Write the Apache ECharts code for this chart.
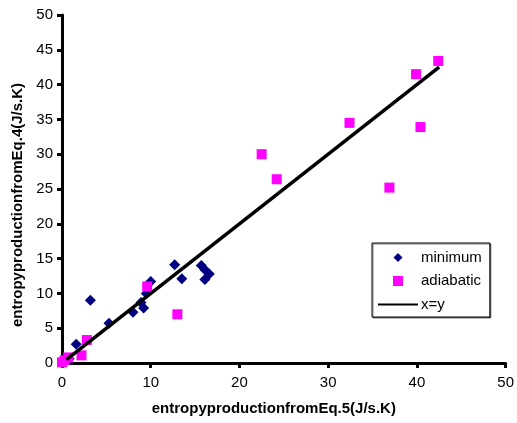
<!DOCTYPE html>
<html>
<head>
<meta charset="utf-8">
<script src="https://cdn.jsdelivr.net/npm/echarts@6/dist/echarts.min.js"></script>
<style>
  html, body { margin: 0; padding: 0; background: #fff; }
  #chart { width: 517px; height: 423px; }
</style>
</head>
<body>
<div id="chart"></div>
<script>
// minimum case: [Eq.5, Eq.4]
var minimumData = [
  [0.3, 0.2], [0.8, 0.6], [1.6, 2.7], [3.2, 9.0], [5.3, 5.7],
  [8.0, 7.3], [8.9, 8.7], [9.2, 7.9], [9.5, 10.0], [10.0, 11.7],
  [12.7, 14.1], [13.5, 12.1], [15.7, 14.0], [16.1, 13.4], [16.6, 12.8],
  [16.1, 12.0]
]
// adiabatic case: [Eq.5, Eq.4]
var adiabaticData = [
  [0.0, 0.1], [0.3, 0.4], [0.7, 0.8], [2.2, 1.1], [2.8, 3.3],
  [9.6, 11.0], [13.0, 7.0], [22.5, 30.0], [24.2, 26.4], [32.4, 34.5],
  [36.9, 25.2], [39.9, 41.5], [40.4, 33.9], [42.4, 43.4]
]
// x=y reference line
var lineData = [[0.5, 0.5], [42.5, 42.5]]

var xName = 'entropyproductionfromEq.5(J/s.K)'
var yName = 'entropyproductionfromEq.4(J/s.K)'

// legend icons padded to the 40x10 item box so they don't get stretched
var diamondIcon = 'path://M0,0L0,0M40,10L40,10M20,0.5L24.5,5L20,9.5L15.5,5Z'
var squareIcon = 'path://M0,0L0,0M40,10L40,10M15,0L25,0L25,10L15,10Z'

var font = 'Liberation Sans, Arial, sans-serif'
var chart = echarts.init(document.getElementById('chart'))

var option = {
  animation: false,
  backgroundColor: '#fff',
  textStyle: { fontFamily: font, color: '#000' },
  grid: {
    left: 62,
    right: 9,
    top: 15,
    bottom: 60
  },
  legend: {
    orient: 'vertical',
    left: 372,
    top: 243,
    data: [
      { name: 'minimum', icon: diamondIcon },
      { name: 'adiabatic', icon: squareIcon },
      { name: 'x=y', itemStyle: { opacity: 0, color: 'rgba(0,0,0,0)', borderWidth: 0 } }
    ],
    symbolKeepAspect: false,
    itemWidth: 40,
    itemHeight: 10,
    itemGap: 8.5,
    padding: [7, 8, 5, 5],
    borderColor: '#000',
    borderWidth: 1,
    shadowColor: 'rgba(0,0,0,0.5)',
    shadowOffsetX: 1,
    shadowOffsetY: 1,
    backgroundColor: '#fff',
    textStyle: { fontFamily: font, fontSize: 15, color: '#000', padding: [0, 0, 0, -2] }
  },
  xAxis: {
    type: 'value',
    min: 0,
    max: 50,
    interval: 10,
    name: xName,
    nameLocation: 'middle',
    nameGap: 38,
    nameTextStyle: {
      fontFamily: font,
      fontSize: 15,
      fontWeight: 'bold',
      color: '#000',
      padding: [0, 20, 0, 0]
    },
    splitLine: { show: false },
    axisLine: { onZero: false, lineStyle: { color: '#000', width: 3 } },
    axisTick: { length: 5, lineStyle: { color: '#000', width: 3 } },
    axisLabel: { fontFamily: font, fontSize: 15, color: '#000', margin: 12 }
  },
  yAxis: {
    type: 'value',
    min: 0,
    max: 50,
    interval: 5,
    name: yName,
    nameLocation: 'middle',
    nameGap: 34,
    nameTextStyle: {
      fontFamily: font,
      fontSize: 15,
      fontWeight: 'bold',
      color: '#000',
      padding: [0, 32, 0, 0]
    },
    splitLine: { show: false },
    axisLine: { onZero: false, lineStyle: { color: '#000', width: 3 } },
    axisTick: { length: 5, lineStyle: { color: '#000', width: 3 } },
    axisLabel: { fontFamily: font, fontSize: 15, color: '#000', margin: 9 }
  },
  series: [
    {
      name: 'minimum',
      type: 'scatter',
      symbol: 'diamond',
      symbolSize: 11,
      itemStyle: { color: '#000080', opacity: 1 },
      data: minimumData
    },
    {
      name: 'x=y',
      type: 'line',
      symbol: 'none',
      lineStyle: { color: '#000', width: 3.5 },
      itemStyle: { color: '#000' },
      data: lineData
    },
    {
      name: 'adiabatic',
      type: 'scatter',
      symbol: 'rect',
      symbolSize: 10,
      itemStyle: { color: '#FF00FF', opacity: 1 },
      data: adiabaticData
    }
  ]
}

chart.setOption(option)
</script>
</body>
</html>
